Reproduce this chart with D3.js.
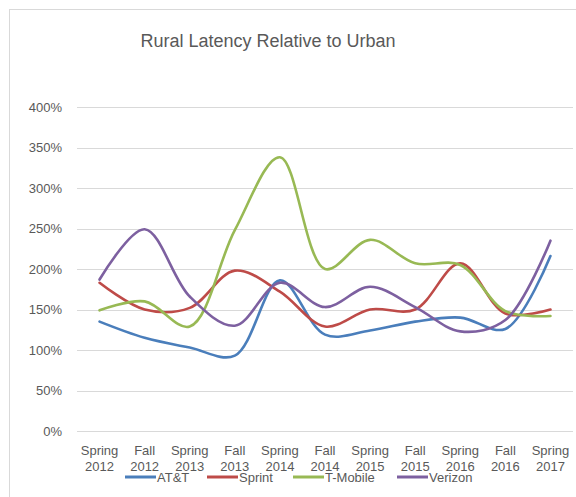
<html lang="en">
<head>
<style>
    body { margin: 0; background: #fff; }
    text { font-family: "Liberation Sans", Arial, sans-serif; fill: #595959; }
</style>
</head>
<body>
</body>
<script type='text/javascript' src='https://d3js.org/d3.v7.min.js'></script>
<script>
    // values as fractions of urban latency (1 = 100%)
    var periods = ["Spring 2012", "Fall 2012", "Spring 2013", "Fall 2013", "Spring 2014", "Fall 2014",
        "Spring 2015", "Fall 2015", "Spring 2016", "Fall 2016", "Spring 2017"];
    var att = [1.35, 1.15, 1.03, 0.93, 1.86, 1.19, 1.24, 1.35, 1.40, 1.26, 2.16];
    var sprint = [1.83, 1.50, 1.52, 1.98, 1.72, 1.29, 1.50, 1.50, 2.07, 1.45, 1.50];
    var tmobile = [1.49, 1.60, 1.29, 2.48, 3.38, 2.00, 2.36, 2.07, 2.05, 1.48, 1.42];
    var verizon = [1.87, 2.49, 1.66, 1.30, 1.83, 1.53, 1.78, 1.53, 1.23, 1.37, 2.35];
    var yTicks = [0, 0.5, 1, 1.5, 2, 2.5, 3, 3.5, 4];
    var seriesNames = ["AT&T", "Sprint", "T-Mobile", "Verizon"];

    var series = [att, sprint, tmobile, verizon];
    var colors = ["#4a7ebb", "#be4b48", "#98b954", "#7d60a0"];

    var width = 576, height = 497;
    var svg = d3.select("body").append("svg")
        .attr("width", width)
        .attr("height", height);

    // chart area border (runs off the right/bottom like the screenshot)
    svg.append("rect")
        .attr("x", 9.5).attr("y", 9.5)
        .attr("width", 620).attr("height", 620)
        .attr("fill", "none")
        .attr("stroke", "#d9d9d9");

    svg.append("text")
        .attr("x", 268).attr("y", 47)
        .attr("text-anchor", "middle")
        .style("font-size", "18px")
        .text("Rural Latency Relative to Urban");

    var x = d3.scaleBand().domain(periods).range([77, 573]);
    var y = d3.scaleLinear().domain([0, 4]).range([431, 107]);

    var grid = svg.append("g");
    grid.selectAll("line").data(yTicks).enter().append("line")
        .attr("x1", 77).attr("x2", 573)
        .attr("y1", function(d) { return Math.round(y(d)) + 0.5; })
        .attr("y2", function(d) { return Math.round(y(d)) + 0.5; })
        .attr("stroke", "#d9d9d9")
        .attr("stroke-width", 1);

    svg.selectAll(".ylab").data(yTicks).enter().append("text")
        .attr("class", "ylab")
        .attr("x", 62)
        .attr("y", function(d) { return y(d) + 4.5; })
        .attr("text-anchor", "end")
        .style("font-size", "13px")
        .text(d3.format(".0%"));

    var xl = svg.selectAll(".xlab").data(periods).enter().append("text")
        .attr("class", "xlab")
        .attr("text-anchor", "middle")
        .style("font-size", "13px");
    xl.append("tspan")
        .attr("x", function(d) { return x(d) + x.bandwidth() / 2; })
        .attr("y", 455)
        .text(function(d) { return d.split(" ")[0]; });
    xl.append("tspan")
        .attr("x", function(d) { return x(d) + x.bandwidth() / 2; })
        .attr("y", 471)
        .text(function(d) { return d.split(" ")[1]; });

    var line = d3.line()
        .x(function(d, i) { return x(periods[i]) + x.bandwidth() / 2; })
        .y(function(d) { return y(d); })
        .curve(d3.curveCatmullRom.alpha(0.5));

    svg.selectAll(".series").data(series).enter().append("path")
        .attr("class", "series")
        .attr("d", line)
        .attr("fill", "none")
        .attr("stroke", function(d, i) { return colors[i]; })
        .attr("stroke-width", 2.6)
        .attr("stroke-linecap", "round");

    // legend
    var legendX = [125, 207, 293, 397];
    var lg = svg.selectAll(".legend").data(seriesNames).enter().append("g")
        .attr("class", "legend")
        .attr("transform", function(d, i) { return "translate(" + legendX[i] + ",477)"; });
    lg.append("line")
        .attr("x1", 0).attr("x2", 31)
        .attr("y1", 0).attr("y2", 0)
        .attr("stroke", function(d, i) { return colors[i]; })
        .attr("stroke-width", 3);
    lg.append("text")
        .attr("x", 32).attr("y", 5)
        .style("font-size", "13px")
        .text(function(d) { return d; });
</script>
</html>
